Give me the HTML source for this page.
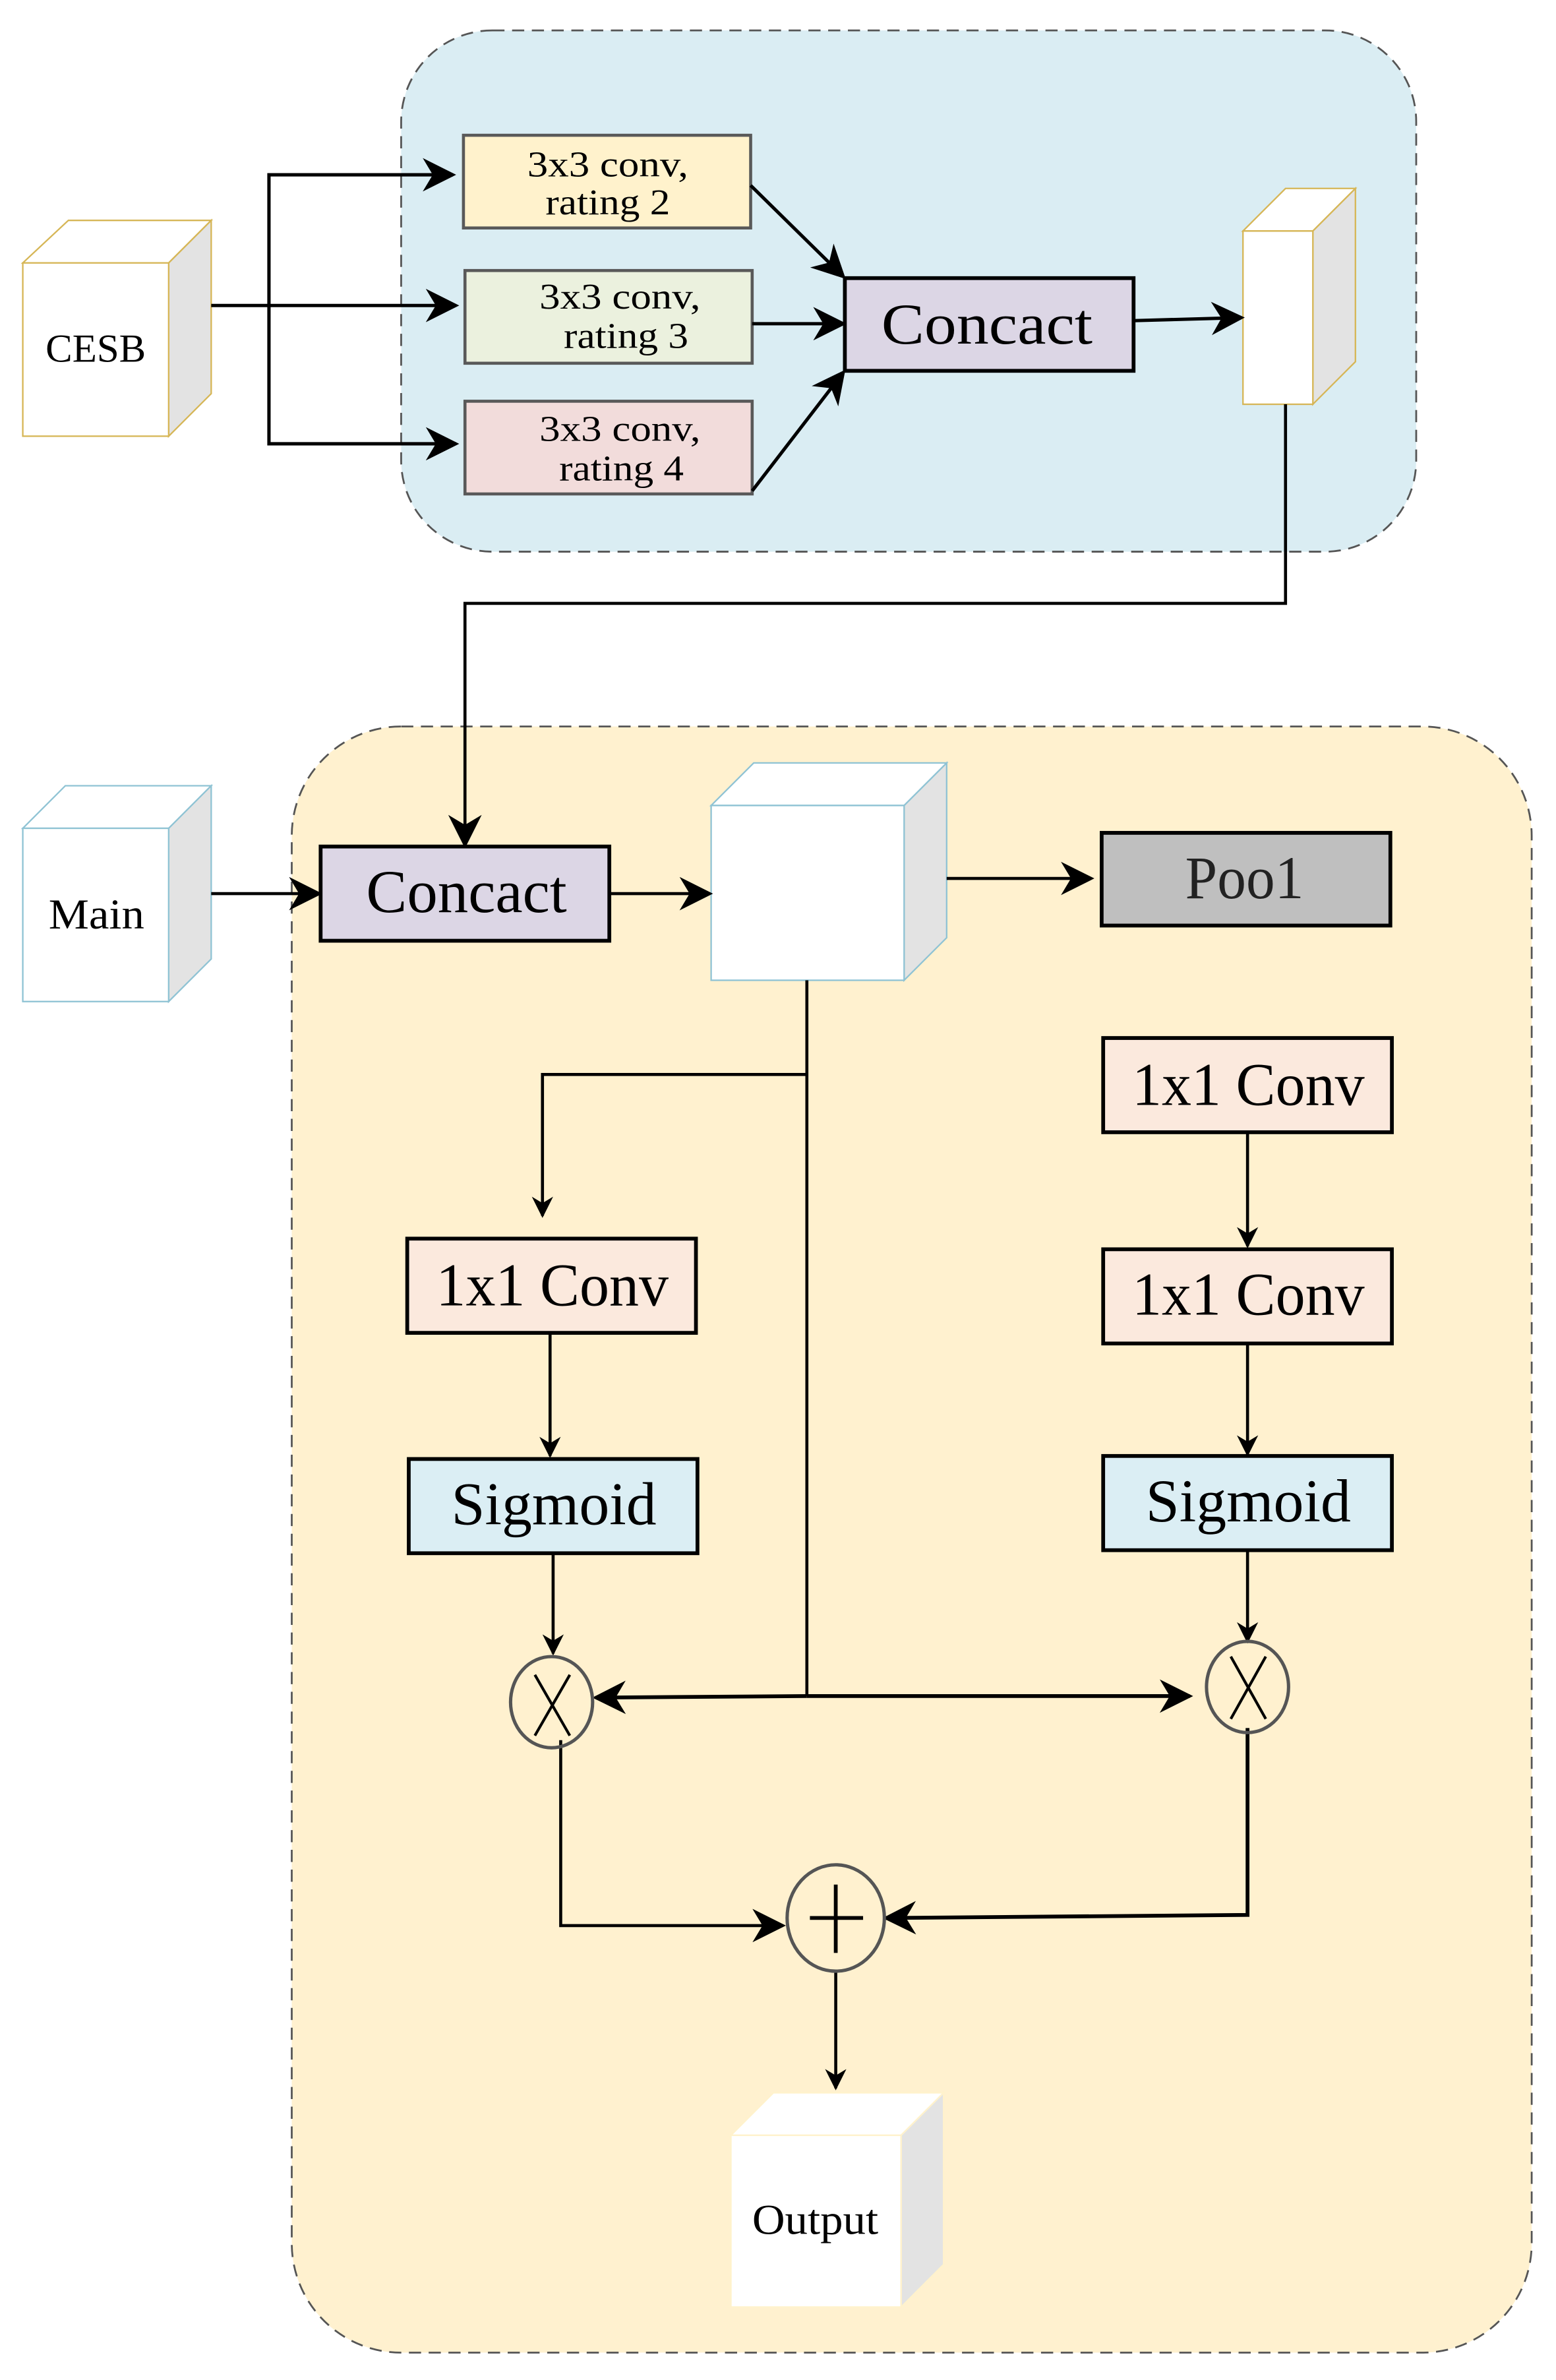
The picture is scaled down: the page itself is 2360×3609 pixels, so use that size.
<!DOCTYPE html>
<html><head><meta charset="utf-8"><style>html,body{margin:0;padding:0;background:#fff}svg{display:block}</style></head>
<body>
<svg width="2360" height="3609" viewBox="0 0 1024 1566" preserveAspectRatio="none" xmlns="http://www.w3.org/2000/svg" font-family="Liberation Serif, serif">
<defs>
<marker id="a" viewBox="0 0 10 10" refX="9" refY="5" markerWidth="20" markerHeight="14" markerUnits="userSpaceOnUse" orient="auto"><path d="M0,0 L10,5 L0,10 L3,5 z" fill="#000"/></marker>
<marker id="b" viewBox="0 0 10 10" refX="9" refY="5" markerWidth="22" markerHeight="22" markerUnits="userSpaceOnUse" orient="auto"><path d="M0,0 L10,5 L0,10 L3,5 z" fill="#000"/></marker>
</defs>
<rect x="264" y="20" width="668" height="343" rx="60" fill="#daedf3" stroke="#555" stroke-width="1.2" stroke-dasharray="8,5"/>
<rect x="192" y="478" width="816" height="1070" rx="72" fill="#fff1cf" stroke="#555" stroke-width="1.2" stroke-dasharray="8,5"/>

<g stroke="#d6b656" stroke-width="1">
<polygon points="15,173 45,145 139,145 111,173" fill="#fff"/>
<polygon points="111,173 139,145 139,259 111,287" fill="#e3e3e3"/>
<rect x="15" y="173" width="96" height="114" fill="#fff"/>
</g>
<text x="30" y="238" font-size="26" textLength="66" lengthAdjust="spacingAndGlyphs">CESB</text>

<rect x="305" y="89" width="189" height="61" fill="#fff2cc" stroke="#595959" stroke-width="2"/>
<text x="347" y="116" font-size="24" textLength="106" lengthAdjust="spacingAndGlyphs">3x3 conv,</text>
<text x="359" y="141" font-size="24" textLength="82" lengthAdjust="spacingAndGlyphs">rating 2</text>
<rect x="306" y="178" width="189" height="61" fill="#ebf1de" stroke="#595959" stroke-width="2"/>
<text x="355" y="203" font-size="24" textLength="106" lengthAdjust="spacingAndGlyphs">3x3 conv,</text>
<text x="371" y="229" font-size="24" textLength="82" lengthAdjust="spacingAndGlyphs">rating 3</text>
<rect x="306" y="264" width="189" height="61" fill="#f2dcdb" stroke="#595959" stroke-width="2"/>
<text x="355" y="290" font-size="24" textLength="106" lengthAdjust="spacingAndGlyphs">3x3 conv,</text>
<text x="368" y="316" font-size="24" textLength="82" lengthAdjust="spacingAndGlyphs">rating 4</text>

<rect x="556" y="183" width="190" height="61" fill="#dcd6e5" stroke="#000" stroke-width="2.5"/>
<text x="580" y="226" font-size="38" textLength="139" lengthAdjust="spacingAndGlyphs">Concact</text>

<g stroke="#d6b656" stroke-width="1">
<polygon points="818,152 846,124 892,124 864,152" fill="#fff"/>
<polygon points="864,152 892,124 892,238 864,266" fill="#e3e3e3"/>
<rect x="818" y="152" width="46" height="114" fill="#fff"/>
</g>

<g stroke="#000" stroke-width="2.2" fill="none">
<line x1="139" y1="201" x2="300" y2="201" marker-end="url(#b)"/>
<polyline points="298,115 177,115 177,292 300,292"/>
<line x1="290" y1="115" x2="298" y2="115" marker-end="url(#b)"/>
<line x1="292" y1="292" x2="300" y2="292" marker-end="url(#b)"/>
<line x1="494" y1="122" x2="555" y2="182" marker-end="url(#b)"/>
<line x1="495" y1="213" x2="555" y2="213" marker-end="url(#b)"/>
<line x1="495" y1="323" x2="555" y2="245" marker-end="url(#b)"/>
<line x1="746" y1="211" x2="817" y2="209" marker-end="url(#b)"/>
<polyline points="846,266 846,397 306,397 306,556" stroke-width="2" marker-end="url(#b)"/>
</g>

<g stroke="#8fc3d4" stroke-width="1">
<polygon points="15,545 43,517 139,517 111,545" fill="#fff"/>
<polygon points="111,545 139,517 139,631 111,659" fill="#e3e3e3"/>
<rect x="15" y="545" width="96" height="114" fill="#fff"/>
</g>
<text x="32" y="611" font-size="28" textLength="63" lengthAdjust="spacingAndGlyphs">Main</text>

<rect x="211" y="557" width="190" height="62" fill="#dcd6e5" stroke="#000" stroke-width="2.5"/>
<text x="241" y="600" font-size="40" textLength="132" lengthAdjust="spacingAndGlyphs">Concact</text>

<g stroke="#8fc3d4" stroke-width="1">
<polygon points="468,530 496,502 623,502 595,530" fill="#fff"/>
<polygon points="595,530 623,502 623,617 595,645" fill="#e3e3e3"/>
<rect x="468" y="530" width="127" height="115" fill="#fff"/>
</g>

<rect x="725" y="548" width="190" height="61" fill="#bfbfbf" stroke="#000" stroke-width="2.5"/>
<text x="780" y="591" font-size="40" textLength="78" lengthAdjust="spacingAndGlyphs" fill="#222">Poo1</text>

<rect x="268" y="815" width="190" height="62" fill="#fbe9dd" stroke="#000" stroke-width="2.5"/>
<text x="287" y="859" font-size="40" textLength="153" lengthAdjust="spacingAndGlyphs">1x1 Conv</text>
<rect x="269" y="960" width="190" height="62" fill="#dbeef4" stroke="#000" stroke-width="2.5"/>
<text x="297" y="1003" font-size="40" textLength="135" lengthAdjust="spacingAndGlyphs">Sigmoid</text>

<rect x="726" y="683" width="190" height="62" fill="#fbe9dd" stroke="#000" stroke-width="2.5"/>
<text x="745" y="727" font-size="40" textLength="153" lengthAdjust="spacingAndGlyphs">1x1 Conv</text>
<rect x="726" y="822" width="190" height="62" fill="#fbe9dd" stroke="#000" stroke-width="2.5"/>
<text x="745" y="865" font-size="40" textLength="153" lengthAdjust="spacingAndGlyphs">1x1 Conv</text>
<rect x="726" y="958" width="190" height="62" fill="#dbeef4" stroke="#000" stroke-width="2.5"/>
<text x="754" y="1001" font-size="40" textLength="135" lengthAdjust="spacingAndGlyphs">Sigmoid</text>

<g stroke="#000" stroke-width="2" fill="none">
<line x1="401" y1="588" x2="467" y2="588" marker-end="url(#b)"/>
<line x1="139" y1="588" x2="210" y2="588" marker-end="url(#b)"/>
<line x1="623" y1="578" x2="718" y2="578" marker-end="url(#b)"/>
<line x1="531" y1="645" x2="531" y2="1116"/>
<polyline points="531,707 357,707 357,800" marker-end="url(#a)"/>
<line x1="362" y1="877" x2="362" y2="958" marker-end="url(#a)"/>
<line x1="364" y1="1022" x2="364" y2="1088" marker-end="url(#a)"/>
<line x1="821" y1="745" x2="821" y2="820" marker-end="url(#a)"/>
<line x1="821" y1="884" x2="821" y2="957" marker-end="url(#a)"/>
<line x1="821" y1="1020" x2="821" y2="1080" marker-end="url(#a)"/>
<line x1="531" y1="1116" x2="392" y2="1117" stroke-width="2.5" marker-end="url(#b)"/>
<line x1="531" y1="1116" x2="783" y2="1116" stroke-width="2.5" marker-end="url(#b)"/>
<polyline points="369,1145 369,1267 515,1267" marker-end="url(#b)"/>
<polyline points="821,1137 821,1260 583,1262" stroke-width="2.5" marker-end="url(#b)"/>
<line x1="550" y1="1296" x2="550" y2="1374" marker-end="url(#a)"/>
</g>

<g stroke="#555" stroke-width="2.2" fill="none">
<ellipse cx="363" cy="1120" rx="27" ry="30"/>
<ellipse cx="821" cy="1110" rx="27" ry="30"/>
<ellipse cx="550" cy="1262" rx="32" ry="35"/>
</g>
<g stroke="#000" stroke-width="1.8">
<line x1="352" y1="1102" x2="375" y2="1142"/><line x1="375" y1="1102" x2="352" y2="1142"/>
<line x1="810" y1="1090" x2="833" y2="1131"/><line x1="833" y1="1090" x2="810" y2="1131"/>
<line x1="550" y1="1240" x2="550" y2="1285" stroke-width="2.5"/><line x1="533" y1="1262" x2="568" y2="1262" stroke-width="2.5"/>
</g>

<g stroke="#fff2cc" stroke-width="1">
<polygon points="481,1405 509,1377 621,1377 593,1405" fill="#fff"/>
<polygon points="593,1405 621,1377 621,1490 593,1518" fill="#e3e3e3"/>
<rect x="481" y="1405" width="112" height="113" fill="#fff"/>
</g>
<text x="495" y="1470" font-size="28" textLength="83" lengthAdjust="spacingAndGlyphs">Output</text>
</svg>
</body></html>
